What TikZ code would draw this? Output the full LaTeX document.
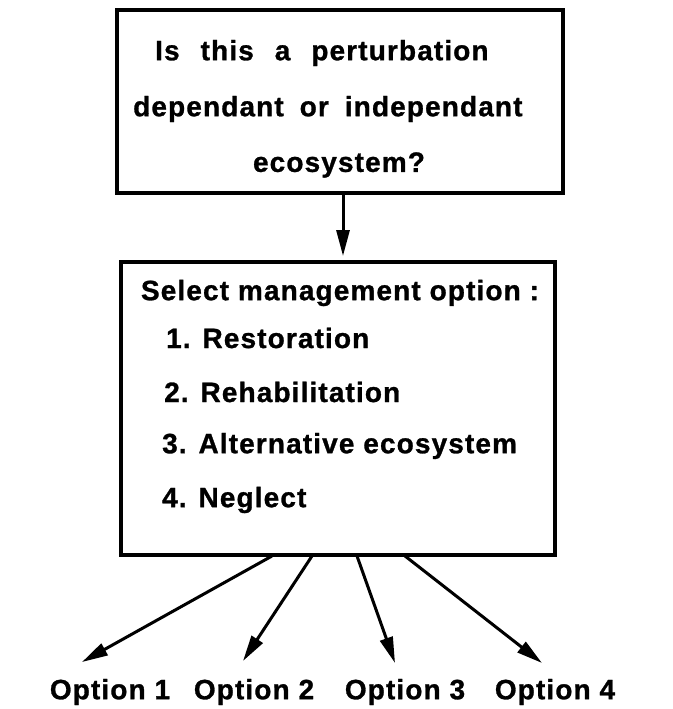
\documentclass[tikz,border=0pt]{standalone}
\usepackage{fontspec}
\setmainfont{Liberation Sans}[LetterSpace=4, BoldFeatures={FakeBold=1}]
\usetikzlibrary{arrows.meta}
\begin{document}
\begin{tikzpicture}[x=1pt,y=-1pt,
  boxx/.style={draw, line width=3.4pt, rectangle, inner sep=0pt},
  lbl/.style={font=\fontsize{28}{30}\selectfont\bfseries, inner sep=0pt},
  conn/.style={line width=3pt, -{Triangle[length=26pt,width=13pt]}},
]
\useasboundingbox (0,0) rectangle (672,709);
% top box
\node[boxx, minimum width=446pt, minimum height=183pt] (q) at (340,101.5) {};
\node[lbl, anchor=west] (q1) at (155,53) {Is\hspace{21pt}this\hspace{21pt}a\hspace{21pt}perturbation};
\node[lbl, anchor=west] (q2) at (133,109) {dependant\hspace{16pt}or\hspace{16pt}independant};
\node[lbl] (q3) at (339,165) {ecosystem?};
% second box
\node[boxx, minimum width=434pt, minimum height=293pt] (m) at (338,408.5) {};
\node[lbl] (sel) at (340,293) {Select management option :};
\node[lbl, anchor=west] (i1) at (166,338) {1. Restoration};
\node[lbl, anchor=west] (i2) at (164,392) {2. Rehabilitation};
\node[lbl, anchor=west] (i3) at (162,446) {3. Alternative ecosystem};
\node[lbl, anchor=west] (i4) at (162,500) {4. Neglect};
% arrow top -> middle
\coordinate (vt) at (343,256);
\draw[conn] (q.south -| vt) -- (vt);
% option labels
\node[lbl] (o1) at (110,692) {Option 1};
\node[lbl] (o2) at (254,692) {Option 2};
\node[lbl] (o3) at (405,692) {Option 3};
\node[lbl] (o4) at (555,692) {Option 4};
% arrow endpoints
\coordinate (s1) at (272,556);
\coordinate (s2) at (312,556);
\coordinate (s3) at (357,556);
\coordinate (s4) at (405,556);
\coordinate (t1) at (82,662);
\coordinate (t2) at (243,661);
\coordinate (t3) at (395,663);
\coordinate (t4) at (542,663);
\draw[conn] (s1) -- (t1);
\draw[conn] (s2) -- (t2);
\draw[conn] (s3) -- (t3);
\draw[conn] (s4) -- (t4);
\end{tikzpicture}
\end{document}
